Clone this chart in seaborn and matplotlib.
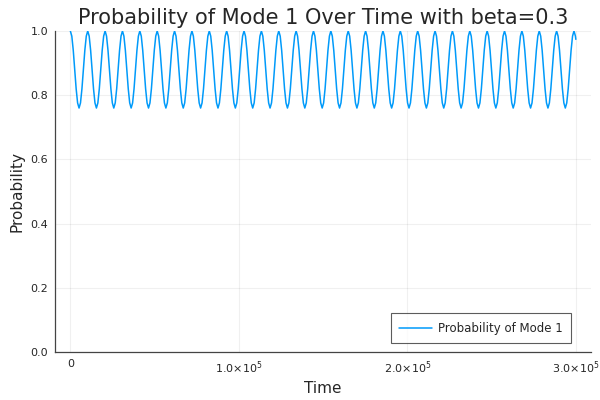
import numpy as np
import pandas as pd
import matplotlib
matplotlib.use("Agg")
import matplotlib.pyplot as plt
import seaborn as sns

# Values
cycle_profile = [1.000, 0.984, 0.940, 0.880, 0.820, 0.776, 0.760,
                 0.776, 0.820, 0.880, 0.940, 0.984]   # one oscillation, 12 samples
n_cycles = 29
cycle_period = 10307.0
end_time = 300000.0
end_tail = [1.000, 0.984, 0.974]                     # partial cycle at the end
series_label = "Probability of Mode 1"
title = "Probability of Mode 1 Over Time with beta=0.3"
x_ticks = [0, 100000, 200000, 300000]
x_tick_labels = ["0", r"1.0$\times$10$^5$", r"2.0$\times$10$^5$", r"3.0$\times$10$^5$"]
y_ticks = [0.0, 0.2, 0.4, 0.6, 0.8, 1.0]
y_tick_labels = ["0.0", "0.2", "0.4", "0.6", "0.8", "1.0"]

step = cycle_period / len(cycle_profile)
prob = list(cycle_profile) * n_cycles
times = [i * step for i in range(len(prob))]
t0 = n_cycles * cycle_period
times += [t0, t0 + step, end_time]
prob += end_tail
df = pd.DataFrame({"Time": times, "Probability": prob})

sns.set_style("white")
plt.rcParams["font.family"] = ["DejaVu Sans"]
plt.rcParams["mathtext.default"] = "regular"

fig = plt.figure(figsize=(6, 4), dpi=100)
ax = fig.add_axes([0.092, 0.12, 0.893, 0.8025])
sns.lineplot(data=df, x="Time", y="Probability", ax=ax, color="#009AFA",
             linewidth=1.1, label=series_label)

ax.set_xlim(-9000, 309000)
ax.set_ylim(0, 1)
ax.set_xticks(x_ticks)
ax.set_xticklabels(x_tick_labels, fontsize=8)
ax.set_yticks(y_ticks)
ax.set_yticklabels(y_tick_labels, fontsize=8)
ax.tick_params(direction="in", length=3, width=0.8, color="#555555", pad=5)
ax.grid(True, color="#000000", alpha=0.06, linewidth=0.8)
for s in ["top", "right"]:
    ax.spines[s].set_visible(False)
for s in ["left", "bottom"]:
    ax.spines[s].set_color("#444444")
    ax.spines[s].set_linewidth(0.9)
ax.set_title(title, fontsize=15, pad=5)
ax.set_xlabel("Time", fontsize=11)
ax.set_ylabel("Probability", fontsize=11)
leg = ax.legend(loc="lower right", fontsize=8.5, frameon=True, fancybox=False,
                edgecolor="#333333", borderpad=0.7, handlelength=2.8,
                handletextpad=0.5, borderaxespad=0,
                bbox_to_anchor=(0.9625, 0.028))
leg.get_frame().set_linewidth(0.8)
fig.savefig("out.png", dpi=100)
